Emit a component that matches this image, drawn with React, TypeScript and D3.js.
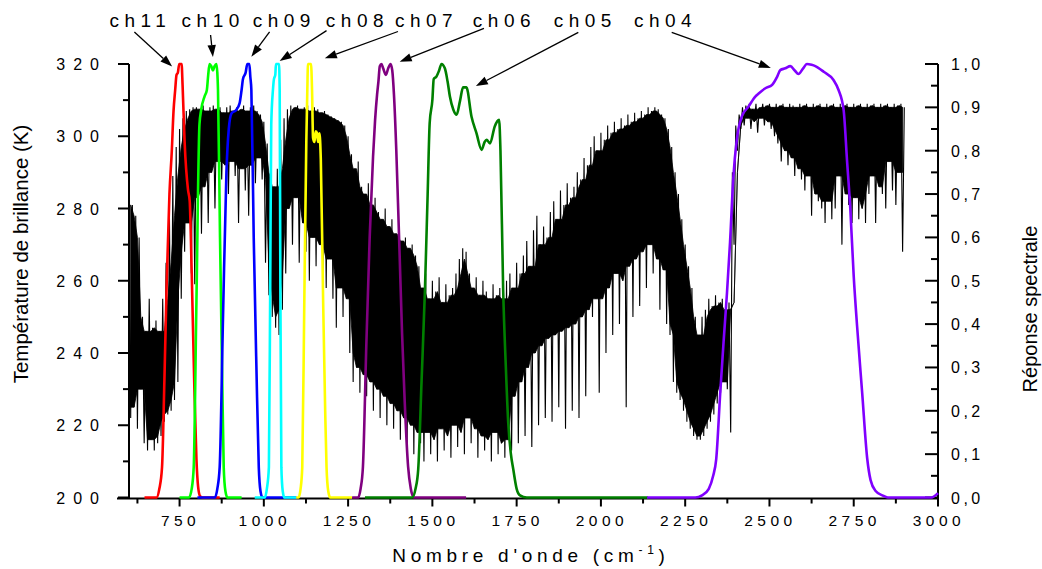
import React from "react";
import * as d3 from "d3";

// ---- axis ticks ----
const wavenumberTicks = [750, 1000, 1250, 1500, 1750, 2000, 2250, 2500, 2750, 3000];
const wavenumberMinorTicks = [625, 875, 1125, 1375, 1625, 1875, 2125, 2375, 2625, 2875];
const temperatureTicks = [200, 220, 240, 260, 280, 300, 320];
const temperatureMinorTicks = [210, 230, 250, 270, 290, 310];
const responseTicks = [0, 0.1, 0.2, 0.3, 0.4, 0.5, 0.6, 0.7, 0.8, 0.9, 1.0];
const responseMinorTicks = [0.05, 0.15, 0.25, 0.35, 0.45, 0.55, 0.65, 0.75, 0.85, 0.95];

// ---- brightness temperature spectrum (K) ----
// local maxima sampled every 10 cm-1 from 600, local minima every 10 cm-1 from 605
const spectrumStart = 600;
const spectrumStep = 10;
const tbPeaks = [
  284, 281, 278, 272, 250, 246, 255, 247, 249, 246,
  255, 265, 278, 289, 297, 302, 305, 307, 307.5, 308,
  308, 307.5, 308.5, 307, 308, 308.5, 307.5, 308, 306.5, 308,
  308.5, 307, 308, 307.5, 308.5, 307, 308, 308.5, 307, 306,
  304, 298, 290, 286, 291, 299, 305, 307.5, 308.5, 308,
  308.5, 307.5, 308, 308.5, 307, 308, 307.5, 306.5, 307, 306,
  305.5, 305, 304.5, 304, 303, 300, 295, 291, 293, 286,
  284, 287, 281, 283, 279, 277, 280, 275, 277, 273,
  274, 271, 272, 269, 270, 267, 264, 258, 262, 255,
  260, 257, 261, 254, 259, 256, 258, 262, 266, 269,
  268, 262, 258, 261, 256, 260, 257, 255, 259, 256,
  258, 255, 260, 262, 258, 265, 262, 267, 271, 264,
  274, 278, 270, 275, 272, 279, 282, 277, 285, 281,
  287, 283, 286, 290, 288, 294, 292, 297, 300, 296,
  301, 299, 303, 301, 304, 302, 305, 303, 306, 304,
  306.5, 305, 307, 306, 308, 307, 308, 307.5, 306, 305,
  302, 297, 290, 284, 277, 270, 264, 258, 250, 245,
  250, 252, 255, 253, 256, 254, 255, 252, 254, 290,
  303, 306, 308, 308.5, 309, 307.5, 309, 308, 309, 308.5,
  309, 308, 309, 308.5, 309, 308, 309, 308.5, 308, 309,
  308.5, 309, 308, 309, 308.5, 309, 308, 309, 308.5, 309,
  308, 309, 308.5, 309, 308, 309, 308.5, 309, 308, 309,
  308.5, 309, 308, 309, 308.5, 309, 308, 309, 308.5, 309,
  308,
];
const tbTroughs = [
  222, 225, 219, 230, 215, 213, 216, 213, 215, 217,
  221, 223, 224, 227, 232, 255, 268, 276, 262, 259,
  283, 273, 286, 276, 290, 280, 293, 288, 292, 284,
  293, 289, 276, 291, 285, 278, 292, 287, 294, 288,
  265, 256, 250, 247, 245, 252, 262, 280, 270, 283,
  265, 276, 268, 260, 272, 264, 270, 262, 258, 266,
  255, 247, 258, 250, 255, 240, 232, 236, 229, 234,
  228, 232, 224, 230, 222, 228, 220, 226, 219, 224,
  216, 222, 214, 220, 212, 218, 215, 210, 218, 212,
  216, 210, 219, 213, 217, 211, 220, 214, 218, 212,
  222, 215, 219, 211, 217, 213, 216, 210, 218, 212,
  215, 211, 216, 213, 228, 215, 232, 217, 236, 214,
  240, 220, 242, 222, 244, 221, 245, 225, 246, 219,
  247, 224, 248, 222, 250, 228, 252, 250, 255, 229,
  255, 240, 258, 245, 262, 248, 260, 225, 264, 250,
  266, 253, 268, 258, 270, 262, 266, 252, 263, 248,
  245, 232, 229, 227, 224, 221, 219, 217, 216, 216,
  217, 219, 221, 223, 226, 229, 232, 230, 218, 270,
  296, 302, 303, 305, 302, 304, 301, 305, 303, 304,
  302, 300, 298, 293, 296, 292, 294, 289, 291, 288,
  285, 289, 278, 284, 282, 280, 276, 282, 277, 280,
  289, 270, 284, 281, 276, 283, 277, 280, 276, 284,
  289, 276, 286, 284, 280, 293, 285, 281, 290, 268,
];

// ---- channel spectral responses: [wavenumber cm-1, relative response] ----
const ch11Response: [number, number][] = [
  [646, 0], [682, 0], [690, 0.02], [698, 0.07], [705, 0.27], [712, 0.5], [720, 0.7], [727, 0.8],
  [732, 0.89], [737, 0.94], [741, 0.975], [745, 0.98], [749, 1.0], [756, 1.0], [759, 0.95],
  [765, 0.82], [775, 0.71], [780, 0.685], [786, 0.52], [794, 0.25], [800, 0.09], [805, 0.025],
  [811, 0.003], [818, 0], [869, 0],
];
const ch10Response: [number, number][] = [
  [750, 0], [778, 0], [786, 0.02], [792, 0.07], [800, 0.45], [809, 0.86], [814, 0.894],
  [824, 0.925], [831, 0.94], [835, 0.975], [839, 1.0], [844, 0.995], [849, 0.985], [854, 0.995],
  [859, 1.0], [862, 0.98], [864, 0.94], [870, 0.6], [876, 0.3], [881, 0.07], [886, 0.015],
  [892, 0], [934, 0],
];
const ch09Response: [number, number][] = [
  [803, 0], [855, 0], [862, 0.02], [869, 0.07], [879, 0.42], [889, 0.75], [896, 0.85],
  [904, 0.886], [918, 0.894], [928, 0.909], [934, 0.94], [938, 0.965], [946, 0.98], [951, 1.0],
  [957, 1.0], [960, 0.97], [963, 0.94], [970, 0.6], [978, 0.3], [985, 0.07], [990, 0.015],
  [996, 0], [1097, 0],
];
const ch08Response: [number, number][] = [
  [973, 0], [1003, 0], [1009, 0.02], [1015, 0.07], [1019, 0.5], [1022, 0.86], [1027, 0.94],
  [1030, 0.965], [1034, 0.975], [1036, 1.0], [1045, 1.0], [1047, 0.94], [1049, 0.5],
  [1052, 0.07], [1056, 0.015], [1061, 0], [1097, 0],
];
const ch07Response: [number, number][] = [
  [1096, 0], [1103, 0], [1109, 0.02], [1114, 0.07], [1120, 0.45], [1126, 0.82], [1129, 0.94],
  [1131, 1.0], [1140, 1.0], [1143, 0.94], [1146, 0.83], [1150, 0.82], [1154, 0.845],
  [1158, 0.84], [1161, 0.82], [1165, 0.84], [1169, 0.78], [1176, 0.45], [1182, 0.2],
  [1186, 0.07], [1191, 0.015], [1197, 0], [1262, 0],
];
const ch06Response: [number, number][] = [
  [1262, 0], [1280, 0], [1287, 0.02], [1294, 0.071], [1304, 0.35], [1314, 0.6], [1324, 0.786],
  [1330, 0.87], [1336, 0.93], [1340, 0.96], [1344, 0.995], [1349, 1.0], [1354, 0.99],
  [1362, 0.975], [1369, 0.99], [1376, 1.0], [1381, 0.985], [1386, 0.93], [1393, 0.8],
  [1398, 0.68], [1403, 0.556], [1410, 0.38], [1418, 0.22], [1428, 0.071], [1436, 0.02],
  [1445, 0], [1600, 0],
];
const ch05Response: [number, number][] = [
  [1300, 0], [1440, 0], [1450, 0.02], [1458, 0.065], [1468, 0.27], [1478, 0.48], [1486, 0.7],
  [1492, 0.864], [1500, 0.917], [1504, 0.965], [1512, 0.971], [1520, 0.985], [1527, 1.0],
  [1537, 0.99], [1545, 0.96], [1552, 0.925], [1562, 0.895], [1572, 0.883], [1582, 0.915],
  [1591, 0.946], [1601, 0.946], [1616, 0.879], [1631, 0.84], [1646, 0.802], [1655, 0.82],
  [1661, 0.825], [1671, 0.817], [1685, 0.856], [1698, 0.871], [1702, 0.8], [1710, 0.48],
  [1718, 0.3], [1725, 0.173], [1733, 0.1], [1740, 0.065], [1750, 0.02], [1760, 0.005],
  [1780, 0], [2140, 0],
];
const ch04Response: [number, number][] = [
  [2137, 0], [2280, 0], [2300, 0.005], [2320, 0.02], [2333, 0.05], [2342, 0.088], [2354, 0.242],
  [2364, 0.36], [2374, 0.472], [2383, 0.588], [2393, 0.74], [2403, 0.825], [2418, 0.879],
  [2438, 0.902], [2458, 0.925], [2468, 0.932], [2488, 0.944], [2508, 0.952], [2523, 0.971],
  [2532, 0.986], [2547, 0.99], [2562, 0.995], [2575, 0.985], [2586, 0.977], [2600, 0.99],
  [2611, 1.0], [2625, 0.998], [2636, 0.995], [2661, 0.982], [2690, 0.963], [2705, 0.94],
  [2720, 0.894], [2730, 0.779], [2740, 0.664], [2750, 0.51], [2760, 0.395], [2775, 0.242],
  [2790, 0.09], [2800, 0.04], [2815, 0.015], [2835, 0.005], [2851, 0], [2980, 0], [3000, 0.01],
];

const channelNames = ["ch11", "ch10", "ch09", "ch08", "ch07", "ch06", "ch05", "ch04"];
const channelColors = ["#ff0000", "#00ff00", "#0000ff", "#00ffff", "#ffff00", "#800080", "#008000", "#8000ff"];
const channelResponses = [
  ch11Response, ch10Response, ch09Response, ch08Response,
  ch07Response, ch06Response, ch05Response, ch04Response,
];

// ---- channel annotations, in data units (wavenumber, response) ----
const labelWavenumbers = [542, 756, 967, 1184, 1389, 1620, 1860, 2098];
const labelResponse = 1.085;
const arrowTails: [number, number][] = [
  [616, 1.074], [842, 1.067], [1017, 1.074], [1186, 1.077],
  [1398, 1.075], [1653, 1.082], [1933, 1.073], [2210, 1.073],
];
const arrowTips: [number, number][] = [
  [728, 0.994], [849, 1.016], [963, 1.017], [1047, 1.007],
  [1181, 1.013], [1403, 1.005], [1629, 0.949], [2504, 0.991],
];

const FONT = "'Liberation Sans', Arial, Helvetica, sans-serif";

export default function App() {
  const width = 1042;
  const height = 569;

  const x = d3.scaleLinear().domain([600, 3000]).range([129, 938]);
  const yT = d3.scaleLinear().domain([200, 320]).range([497.5, 64]);
  const yR = d3.scaleLinear().domain([0, 1]).range([497.5, 64]);

  const axisY = 498.5;
  const leftX = x(600);
  const rightX = x(3000);

  // zig-zag through alternating maxima and minima
  const spectrumPoints: [number, number][] = [];
  tbPeaks.forEach((t, i) => {
    const w = spectrumStart + i * spectrumStep;
    spectrumPoints.push([w, t]);
    if (i < tbTroughs.length) spectrumPoints.push([w + spectrumStep / 2, tbTroughs[i]]);
  });

  // dense core of the spectrum: where neighbouring lines overlap
  const nT = tbTroughs.length;
  const core = tbTroughs.map((_, i) => {
    const top = Math.min(tbPeaks[i], tbPeaks[i + 1], tbPeaks[Math.max(0, i - 1)]);
    const bottom = Math.max(tbTroughs[i], tbTroughs[Math.max(0, i - 1)], tbTroughs[Math.min(nT - 1, i + 1)]);
    return { w: spectrumStart + i * spectrumStep + spectrumStep / 2, top, bottom: Math.min(bottom, top) };
  });

  const spectrumLine = d3
    .line<[number, number]>()
    .x((d) => x(d[0]))
    .y((d) => yT(d[1]));

  const coreArea = d3
    .area<{ w: number; top: number; bottom: number }>()
    .x((d) => x(d.w))
    .y0((d) => yT(d.bottom))
    .y1((d) => yT(d.top));

  const responseLine = d3
    .line<[number, number]>()
    .x((d) => x(d[0]))
    .y((d) => yR(d[1]))
    .curve(d3.curveMonotoneX);

  const fmtResp = (v: number) => d3.format(".1f")(v).replace(".", ",");

  const headLen = 12;
  const headHalf = 4.2;

  return (
    <svg
      width={width}
      height={height}
      viewBox={`0 0 ${width} ${height}`}
      style={{ position: "absolute", left: 0, top: 0, background: "#fff" }}
      fontFamily={FONT}
    >
      <rect x={0} y={0} width={width} height={height} fill="#fff" />

      {/* brightness temperature spectrum */}
      <path d={coreArea(core) || ""} fill="#000" stroke="#000" strokeWidth={0.8} />
      <path d={spectrumLine(spectrumPoints) || ""} fill="none" stroke="#000" strokeWidth={1.1} />

      {/* axes */}
      <g stroke="#000" strokeWidth={2} fill="none">
        <line x1={leftX} y1={64} x2={leftX} y2={axisY} />
        <line x1={rightX} y1={64} x2={rightX} y2={axisY + 1} />
        <line x1={leftX - 12} y1={axisY} x2={rightX} y2={axisY} />
        {temperatureTicks.map((t) => (
          <line key={"tm" + t} x1={leftX - 11} y1={yT(t)} x2={leftX} y2={yT(t)} />
        ))}
        {temperatureMinorTicks.map((t) => (
          <line key={"tn" + t} x1={leftX - 6} y1={yT(t)} x2={leftX} y2={yT(t)} />
        ))}
        {responseTicks.map((r) => (
          <line key={"rm" + r} x1={rightX - 13} y1={yR(r)} x2={rightX} y2={yR(r)} />
        ))}
        {responseMinorTicks.map((r) => (
          <line key={"rn" + r} x1={rightX - 7} y1={yR(r)} x2={rightX} y2={yR(r)} />
        ))}
        {wavenumberTicks.map((w) => (
          <line key={"wm" + w} x1={x(w)} y1={axisY} x2={x(w)} y2={axisY + 8} />
        ))}
        {wavenumberMinorTicks.map((w) => (
          <line key={"wn" + w} x1={x(w)} y1={axisY} x2={x(w)} y2={axisY + 5} />
        ))}
      </g>

      {/* channel spectral responses */}
      {channelResponses.map((data, i) => (
        <path
          key={channelNames[i]}
          d={responseLine(data) || ""}
          fill="none"
          stroke={channelColors[i]}
          strokeWidth={2.6}
          strokeLinejoin="round"
        />
      ))}

      {/* tick labels */}
      <g fontSize={16} fill="#000">
        {temperatureTicks.map((t) => (
          <text key={"tl" + t} x={107} y={yT(t) + 6} textAnchor="end" letterSpacing={8}>
            {t}
          </text>
        ))}
        {responseTicks.map((r) => (
          <text key={"rl" + r} x={951} y={yR(r) + 6} textAnchor="start" letterSpacing={3.5}>
            {fmtResp(r)}
          </text>
        ))}
      </g>
      <g fontSize={15.5} fill="#000">
        {wavenumberTicks.map((w) => (
          <text key={"wl" + w} x={x(w) + 1} y={526} textAnchor="middle" letterSpacing={4.5}>
            {w}
          </text>
        ))}
      </g>

      {/* axis titles */}
      <text
        transform={`translate(28,254) rotate(-90)`}
        textAnchor="middle"
        fontSize={20.5}
        fill="#000"
      >
        Température de brillance (K)
      </text>
      <text
        transform={`translate(1037,309) rotate(-90)`}
        textAnchor="middle"
        fontSize={20}
        fill="#000"
      >
        Réponse spectrale
      </text>
      <text x={531} y={562} textAnchor="middle" fontSize={19} letterSpacing={4.7} fill="#000">
        Nombre d'onde (cm
        <tspan fontSize={12} dy={-8}>-1</tspan>
        <tspan dy={8}>)</tspan>
      </text>

      {/* channel labels and arrows */}
      <g fill="#000">
        {channelNames.map((name, i) => {
          const tx = x(arrowTails[i][0]);
          const ty = yR(arrowTails[i][1]);
          const hx = x(arrowTips[i][0]);
          const hy = yR(arrowTips[i][1]);
          const dx = hx - tx;
          const dy = hy - ty;
          const len = Math.sqrt(dx * dx + dy * dy);
          const ux = dx / len;
          const uy = dy / len;
          const bx = hx - ux * headLen;
          const by = hy - uy * headLen;
          const head = [
            [hx, hy],
            [bx - uy * headHalf, by + ux * headHalf],
            [bx + uy * headHalf, by - ux * headHalf],
          ]
            .map((p) => p.join(","))
            .join(" ");
          return (
            <g key={"ann" + name}>
              <text x={x(labelWavenumbers[i])} y={yR(labelResponse)} fontSize={19} letterSpacing={5.5}>
                {name}
              </text>
              <line x1={tx} y1={ty} x2={bx} y2={by} stroke="#000" strokeWidth={1.3} />
              <polygon points={head} fill="#000" />
            </g>
          );
        })}
      </g>
    </svg>
  );
}
